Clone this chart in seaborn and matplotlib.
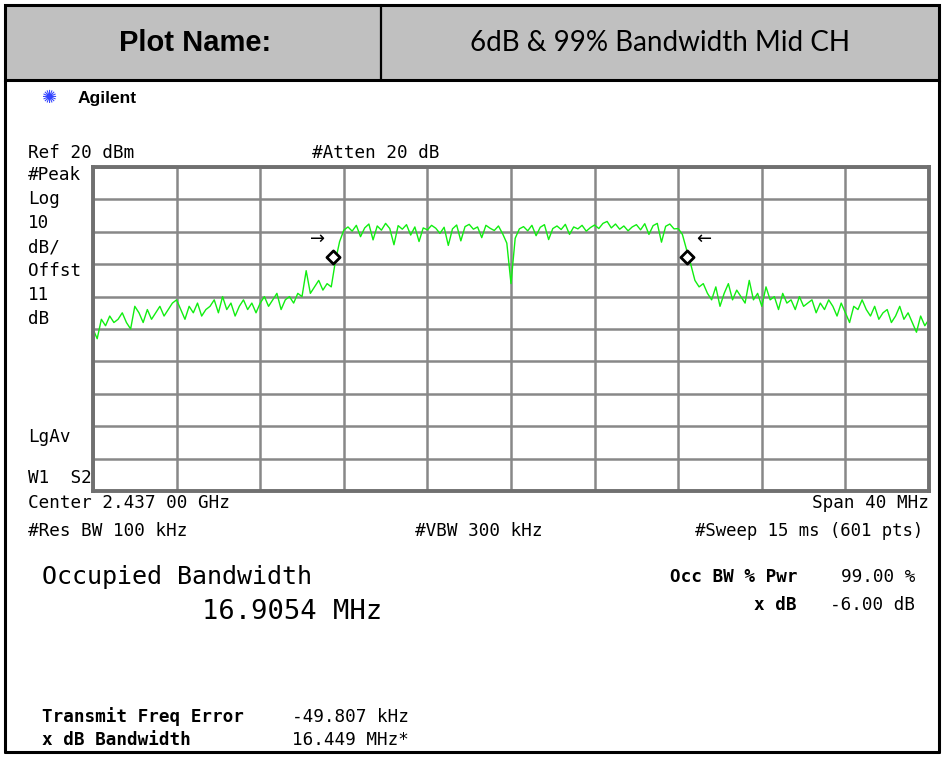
import numpy as np
import pandas as pd
import matplotlib as mpl; mpl.use("Agg")
import matplotlib.pyplot as plt
import seaborn as sns
from matplotlib.patches import Rectangle

center_mhz = 2437.0
span_mhz = 40.0
ref_dbm = 20
db_div = 10

# traza (dBm), de -20 MHz a +20 MHz en pasos de 0.2 MHz
skirt_left = [-30, -33, -27, -29, -26, -28, -27, -25, -28, -30,
              -23, -25, -28, -24, -27, -25, -23, -26, -24, -22,
              -21, -24, -27, -23, -25, -22, -26, -24, -23, -21,
              -25, -20, -24, -22, -26, -23, -21, -24, -22, -25,
              -22, -20, -23, -21, -19, -24, -21, -20, -22, -19,
              -20, -12, -19, -17, -15, -18, -16, -17]
edge_rise = [-9, -3, 0.5]
plateau = [1.5, 0.2, 2.0, -1.5, 1.2, 2.4, -2.5, 1.8, 0.5,
           2.6, 1.0, -4.0, 1.9, 0.8, 2.2, -1.0, 1.5, -3.0, 1.2,
           0.6, 2.0, 1.1, -0.5, 1.4, -4.2, 0.9, 2.1, -2.8, 1.6,
           2.3, 0.8, 1.5, -1.8, 2.0, 1.1, 0.4, 1.8, -0.6, -3.5,
           -16,
           -2.0, 0.9, 1.6, 0.3, 2.0, -1.2, 1.4, 2.2, -2.4, 1.0,
           1.8, 0.7, 2.3, -0.8, 1.5, 0.9, 2.0, 0.2, 1.3, 2.1,
           1.0, 2.6, 3.2, 1.2, 2.4, 0.8, 1.8, 0.3, 1.5, 2.2,
           0.6, 2.5, -0.8, 1.9, 2.6, -3.2, 1.7, 2.4, 0.9]
edge_fall = [1.0, -0.8, -5.5, -10, -15]
skirt_right = [-17, -16, -19, -21, -17, -23, -19, -16, -21, -18,
               -20, -22, -15, -21, -19, -23, -17, -21, -20, -24,
               -19, -22, -21, -24, -20, -23, -22, -21, -25, -22,
               -24, -21, -23, -26, -22, -25, -28, -23, -24, -21,
               -24, -26, -23, -27, -25, -24, -28, -26, -23, -27,
               -25, -28, -31, -26, -29, -27]

# marcadores de ancho de banda ocupado (rombos) y puntos x dB (flechas)
obw_marker_mhz = [2428.50, 2445.40]
obw_marker_dbm = [-7.8, -7.8]
xdb_arrow_mhz = [2427.75, 2446.2]
xdb_arrow_dbm = [-2.2, -2.2]
xdb_arrow_txt = ["\u2192", "\u2190"]

trace = skirt_left + edge_rise + plateau + edge_fall + skirt_right
freq = np.linspace(center_mhz - span_mhz / 2, center_mhz + span_mhz / 2, len(trace))
df = pd.DataFrame({"freq": freq, "dbm": trace})

sns.set_style("white")
plt.rcParams["font.family"] = ["DejaVu Sans Mono", "DejaVu Sans"]
plt.rcParams["text.color"] = "black"

W, H = 942, 757
fig = plt.figure(figsize=(W / 100, H / 100), dpi=100)
fig.patch.set_facecolor("white")

# capa de fondo en pixeles
bg = fig.add_axes([0, 0, 1, 1])
bg.set_xlim(0, W)
bg.set_ylim(H, 0)
bg.axis("off")

# cabecera tipo tabla
bg.add_patch(Rectangle((5, 5), 934, 75, facecolor="#c0c0c0", edgecolor="black", lw=2.2))
bg.plot([381, 381], [5, 80], color="black", lw=1.6)
bg.plot([5, 5], [80, 752], color="black", lw=2.2)
bg.plot([939, 939], [80, 752], color="black", lw=2.2)
bg.plot([5, 939], [752, 752], color="black", lw=2.2)
bg.text(195, 43, "Plot Name:", ha="center", va="center", fontsize=21,
        fontweight="bold", family="Liberation Sans", color="black")
bg.text(660, 43, "6dB & 99% Bandwidth Mid CH", ha="center", va="center",
        fontsize=20, family="Lato", color="black")

# logo
bg.text(50, 98, "\u273a", ha="center", va="center", fontsize=13, color="#3344ff",
        family="DejaVu Sans")
bg.text(78, 98, "Agilent", ha="left", va="center", fontsize=12.5, fontweight="bold",
        family="Liberation Sans", color="black")

mono = dict(family="DejaVu Sans Mono", color="black")
fs = 12.7
bg.text(28, 153, "Ref 20 dBm", ha="left", va="center", fontsize=fs, **mono)
bg.text(312, 153, "#Atten 20 dB", ha="left", va="center", fontsize=fs, **mono)
left_lbls = ["#Peak", "Log", "10", "dB/", "Offst", "11", "dB"]
for i, t in enumerate(left_lbls):
    bg.text(28, 175 + i * 24, t, ha="left", va="center", fontsize=fs, **mono)
bg.text(28, 437, "LgAv", ha="left", va="center", fontsize=fs, **mono)
bg.text(28, 478, "W1  S2", ha="left", va="center", fontsize=fs, **mono)
bg.text(28, 503, "Center 2.437 00 GHz", ha="left", va="center", fontsize=fs, **mono)
bg.text(929, 503, "Span 40 MHz", ha="right", va="center", fontsize=fs, **mono)
bg.text(28, 531, "#Res BW 100 kHz", ha="left", va="center", fontsize=fs, **mono)
bg.text(415, 531, "#VBW 300 kHz", ha="left", va="center", fontsize=fs, **mono)
bg.text(923, 531, "#Sweep 15 ms (601 pts)", ha="right", va="center", fontsize=12.4, **mono)

bg.text(42, 577, "Occupied Bandwidth", ha="left", va="center", fontsize=18, **mono)
bg.text(382, 612, "16.9054 MHz", ha="right", va="center", fontsize=19.5, **mono)
bg.text(797, 577, "Occ BW % Pwr", ha="right", va="center", fontsize=fs,
        fontweight="bold", **mono)
bg.text(915, 577, "99.00 %", ha="right", va="center", fontsize=fs, **mono)
bg.text(797, 605, "x dB", ha="right", va="center", fontsize=fs, fontweight="bold", **mono)
bg.text(915, 605, "-6.00 dB", ha="right", va="center", fontsize=fs, **mono)
bg.text(42, 717, "Transmit Freq Error", ha="left", va="center", fontsize=fs,
        fontweight="bold", **mono)
bg.text(292, 717, "-49.807 kHz", ha="left", va="center", fontsize=fs, **mono)
bg.text(42, 740, "x dB Bandwidth", ha="left", va="center", fontsize=fs,
        fontweight="bold", **mono)
bg.text(292, 740, "16.449 MHz*", ha="left", va="center", fontsize=fs, **mono)

# reticula del analizador
x0, y0, x1, y1 = 93, 167, 929, 491
ax = fig.add_axes([x0 / W, 1 - y1 / H, (x1 - x0) / W, (y1 - y0) / H])
sns.lineplot(data=df, x="freq", y="dbm", ax=ax, color="#11ee11", lw=1.0)
ax.scatter(obw_marker_mhz, obw_marker_dbm, marker="D", s=45, facecolor="white",
           edgecolor="black", linewidths=2, zorder=5)
for fx, fy, t in zip(xdb_arrow_mhz, xdb_arrow_dbm, xdb_arrow_txt):
    ax.text(fx, fy, t, ha="center", va="center", fontsize=13, family="DejaVu Sans",
            color="black")
ax.set_xlim(center_mhz - span_mhz / 2, center_mhz + span_mhz / 2)
ax.set_ylim(ref_dbm - 10 * db_div, ref_dbm)
ax.set_xticks(np.linspace(center_mhz - span_mhz / 2, center_mhz + span_mhz / 2, 11))
ax.set_yticks(np.arange(ref_dbm - 10 * db_div, ref_dbm + 1, db_div))
ax.grid(True, color="#888888", lw=1.8)
ax.tick_params(length=0, labelbottom=False, labelleft=False)
ax.set_xlabel("")
ax.set_ylabel("")
for s in ax.spines.values():
    s.set_color("#707070")
    s.set_linewidth(2.8)
    s.set_visible(True)

plt.savefig("out.png", dpi=100)
print("OK -> out.png")
